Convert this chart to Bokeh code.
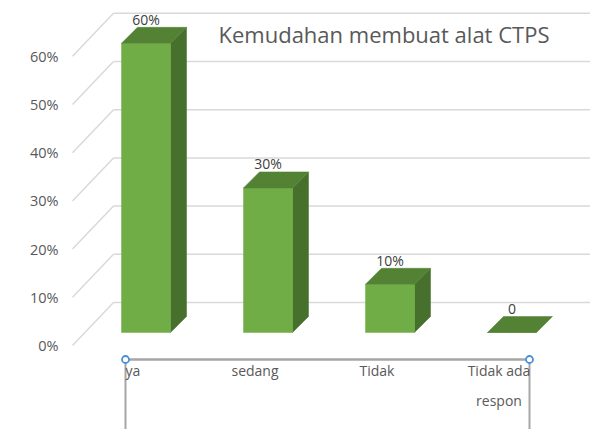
from bokeh.plotting import figure
from bokeh.models import Range1d, LinearAxis, FixedTicker, PrintfTickFormatter, ColumnDataSource
from bokeh.core.properties import value
from bokeh.embed import file_html
from bokeh.resources import INLINE

# ---- data ----
title = "Kemudahan membuat alat CTPS"
categories = ["ya", "sedang", "Tidak", "Tidak ada respon"]
cat_lines = ["ya", "sedang", "Tidak", "Tidak ada\nrespon"]
values = [60, 30, 10, 0]
data_labels = ["60%", "30%", "10%", "0"]
y_ticks = [0, 10, 20, 30, 40, 50, 60]

# ---- geometry / style (pixel based pseudo-3D) ----
W, H = 590, 429
LEFT = 66
X_PX = 122.0          # pixels per category step
X0_PX = 145.5         # pixel of first category centre
Y_PX = 4.82           # pixels per percent
Y0_PX = 332.0         # pixel of 0 at bar front

def dxu(px):
    return px / X_PX

def dyu(px):
    return px / Y_PX

BAR_W = dxu(49)
DEPTH_X = dxu(16)
DEPTH_Y = dyu(16)
WALL_X = dxu(113 - X0_PX)
WALL_DY = dyu(30)
FRONT_X = dxu(72 - X0_PX)
FRONT_DY = -dyu(13)

FRONT_C = "#70AD47"
TOP_C = "#548235"
SIDE_C = "#46702B"
GRID_C = "#D9D9D9"
TEXT_C = "#595959"

x_start = dxu(LEFT - X0_PX)
x_end = dxu(W - X0_PX)
y_start = -dyu(H - Y0_PX)
y_end = dyu(Y0_PX)

p = figure(width=W, height=H, output_backend="svg", toolbar_location=None,
           x_range=Range1d(x_start, x_end), y_range=Range1d(y_start, y_end),
           x_axis_type=None, y_axis_type=None,
           min_border_left=LEFT, min_border_right=0, min_border_top=0, min_border_bottom=0)
p.grid.visible = False
p.outline_line_color = None
p.background_fill_color = "white"
p.border_fill_color = "white"

# axis placed on the front plane
p.extra_y_ranges = {"front": Range1d(y_start - FRONT_DY, y_end - FRONT_DY)}
ax = LinearAxis(y_range_name="front", ticker=FixedTicker(ticks=y_ticks),
                formatter=PrintfTickFormatter(format="%d%%"))
ax.axis_line_color = None
ax.major_tick_line_color = None
ax.minor_tick_line_color = None
ax.major_tick_out = 0
ax.major_tick_in = 0
ax.major_label_standoff = 8
ax.major_label_text_font = "Open Sans"
ax.major_label_text_font_size = "14.5px"
ax.major_label_text_color = TEXT_C
p.add_layout(ax, "left")

# back wall gridlines and diagonal floor lines
p.segment(x0=[WALL_X] * len(y_ticks), y0=[t + WALL_DY for t in y_ticks],
          x1=[x_end + 1] * len(y_ticks), y1=[t + WALL_DY for t in y_ticks],
          line_color=GRID_C, line_width=1.5)
p.segment(x0=[FRONT_X] * len(y_ticks), y0=[t + FRONT_DY for t in y_ticks],
          x1=[WALL_X] * len(y_ticks), y1=[t + WALL_DY for t in y_ticks],
          line_color=GRID_C, line_width=1.5)

# bars
xs = list(range(len(categories)))
front_src = ColumnDataSource(dict(left=[x - BAR_W / 2 for x in xs], right=[x + BAR_W / 2 for x in xs],
                                  top=values, bottom=[0] * len(xs)))
side_xs, side_ys, top_xs, top_ys = [], [], [], []
for x, v in zip(xs, values):
    l, r = x - BAR_W / 2, x + BAR_W / 2
    top_xs.append([l, r, r + DEPTH_X, l + DEPTH_X])
    top_ys.append([v, v, v + DEPTH_Y, v + DEPTH_Y])
    if v > 0:
        side_xs.append([r, r + DEPTH_X, r + DEPTH_X, r])
        side_ys.append([0, DEPTH_Y, v + DEPTH_Y, v])
p.patches(side_xs, side_ys, fill_color=SIDE_C, line_color=SIDE_C, line_width=0.5)
p.quad(left="left", right="right", top="top", bottom="bottom", source=front_src,
       fill_color=FRONT_C, line_color=FRONT_C, line_width=0.5)
p.patches(top_xs, top_ys, fill_color=TOP_C, line_color=TOP_C, line_width=0.5)

# data labels
p.text(x=xs, y=[v + DEPTH_Y + dyu(8) for v in values], text=data_labels,
       text_font=value("Open Sans"), text_font_size="14px", text_color="#404040",
       text_align="center", text_baseline="middle")

# title
p.text(x=[dxu(218 - X0_PX)], y=[dyu(Y0_PX - 33)], text=[title],
       text_font=value("Open Sans"), text_font_size="22px", text_color=TEXT_C,
       text_align="left", text_baseline="middle")

# category axis (drawn on the floor front)
AXIS_Y = -dyu(359 - Y0_PX)
ax_l = dxu(125 - X0_PX)
ax_r = (len(categories) - 1) + dxu(529 - (X0_PX + 3 * X_PX))
p.segment(x0=[ax_l], y0=[AXIS_Y], x1=[ax_r], y1=[AXIS_Y], line_color="#A6A6A6", line_width=2.5)
p.segment(x0=[ax_l, ax_r], y0=[AXIS_Y, AXIS_Y], x1=[ax_l, ax_r], y1=[y_start - 1, y_start - 1],
          line_color="#A6A6A6", line_width=2)
p.scatter(x=[ax_l, ax_r], y=[AXIS_Y, AXIS_Y], size=7, marker="circle",
          fill_color="white", line_color="#4A90D9", line_width=1.8)
p.text(x=[x - dxu(13) for x in xs], y=[AXIS_Y - dyu(1)] * len(xs), text=cat_lines,
       text_font=value("Open Sans"), text_font_size="14px", text_color=TEXT_C,
       text_align="center", text_baseline="top", text_line_height=1.6)

open("out.html", "w").write(file_html(p, INLINE))
